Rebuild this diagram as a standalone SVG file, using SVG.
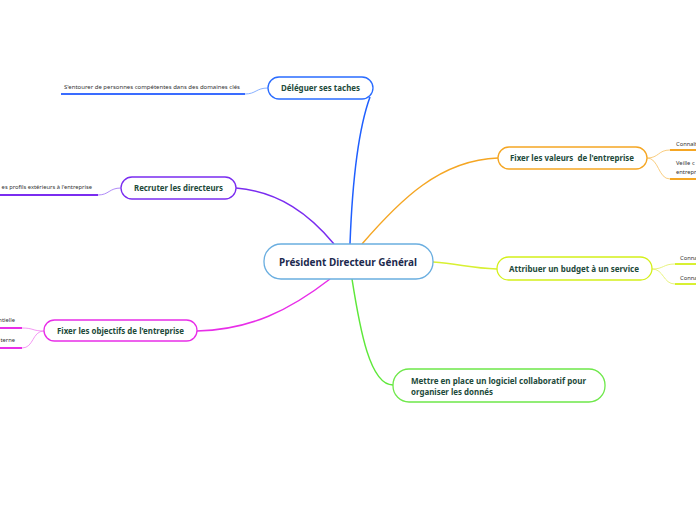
<svg xmlns="http://www.w3.org/2000/svg" width="696" height="520" viewBox="0 0 696 520">
<style>
.node{fill:#fff;stroke-width:1.3}
.t{font-family:"Noto Sans","Open Sans",sans-serif;font-weight:bold;font-size:8px;fill:#1d4a3a}
.leaf{font-family:"Noto Sans","Open Sans",sans-serif;font-size:5.8px;fill:#333}
.c{fill:none;stroke-width:1.5}
.lc{fill:none;stroke-width:0.8}
.ul{fill:none;stroke-width:2}
</style>
<rect width="696" height="520" fill="#fff"/>
<g id="connectors">
<path class="c" stroke="#1f5fff" d="M350,244 C352,190 358,130 370,97"/>
<path class="c" stroke="#7a2cf0" d="M334,244 C310,215 280,192 236,188"/>
<path class="c" stroke="#f5a623" d="M362,244 C400,200 440,160 498,158"/>
<path class="c" stroke="#d8f032" d="M433,262 C460,264 470,268 497,269"/>
<path class="c" stroke="#5ee83a" d="M352,279 C360,330 370,385 393,385"/>
<path class="c" stroke="#e82ee8" d="M330,279 C290,310 250,330 197,331"/>
<path class="lc" stroke="#6a9cff" d="M268,88 C256,88 256,94 245,94"/>
<path class="ul" stroke="#3a6cff" d="M245,94 H61"/>
<path class="lc" stroke="#9a6cf5" d="M121,188 C109,188 109,195 98,195"/>
<path class="ul" stroke="#7a2cf0" d="M98,195 H0"/>
<path class="lc" stroke="#f07cf0" d="M44,331 C32,331 34,328 22,328"/>
<path class="ul" stroke="#e82ee8" d="M22,328 H0"/>
<path class="lc" stroke="#f07cf0" d="M44,331 C32,331 34,348 22,348"/>
<path class="ul" stroke="#e82ee8" d="M22,348 H0"/>
<path class="lc" stroke="#f8c060" d="M647,158 C659,158 658,150 670,150"/>
<path class="ul" stroke="#f5a623" d="M670,150 H696"/>
<path class="lc" stroke="#f8c060" d="M647,158 C659,158 658,179 670,179"/>
<path class="ul" stroke="#f5a623" d="M670,179 H696"/>
<path class="lc" stroke="#e2f060" d="M652,269 C664,269 663,264 675,264"/>
<path class="ul" stroke="#d8f032" d="M675,264 H696"/>
<path class="lc" stroke="#e2f060" d="M652,269 C664,269 663,284 675,284"/>
<path class="ul" stroke="#d8f032" d="M675,284 H696"/>
</g>
<g id="central">
<rect class="node" x="264" y="244" width="169" height="35" rx="17" stroke="#6aaee0"/>
<text x="348" y="266" text-anchor="middle" class="t" style="font-size:10.5px;fill:#1c2a4e" textLength="138" lengthAdjust="spacingAndGlyphs">Président Directeur Général</text>
</g>
<g id="deleguer">
<rect class="node" x="268" y="77" width="105" height="22" rx="11" stroke="#2a6cff"/>
<text x="320.5" y="91" text-anchor="middle" class="t" textLength="79" lengthAdjust="spacingAndGlyphs">Déléguer ses taches</text>
<text x="64" y="89" class="leaf" textLength="176" lengthAdjust="spacingAndGlyphs">S'entourer de personnes compétentes dans des domaines clés</text>
</g>
<g id="recruter">
<rect class="node" x="121" y="177" width="115" height="22" rx="11" stroke="#7a2cf0"/>
<text x="178.5" y="191" text-anchor="middle" class="t" textLength="89" lengthAdjust="spacingAndGlyphs">Recruter les directeurs</text>
<text x="92" y="189" text-anchor="end" class="leaf">es profils extérieurs à l'entreprise</text>
</g>
<g id="objectifs">
<rect class="node" x="44" y="320" width="153" height="21" rx="10.5" stroke="#e82ee8"/>
<text x="120.5" y="334" text-anchor="middle" class="t" textLength="127" lengthAdjust="spacingAndGlyphs">Fixer les objectifs de l'entreprise</text>
<text x="15" y="322" text-anchor="end" class="leaf">ntielle</text>
<text x="15" y="342" text-anchor="end" class="leaf">terne</text>
</g>
<g id="valeurs">
<rect class="node" x="498" y="147" width="149" height="22" rx="11" stroke="#f5a623"/>
<text x="572" y="161" text-anchor="middle" class="t" textLength="124" lengthAdjust="spacingAndGlyphs" xml:space="preserve">Fixer les valeurs  de l'entreprise</text>
<text x="676" y="146" class="leaf">Connaît</text>
<text x="676" y="165" class="leaf">Veille c</text>
<text x="676" y="174" class="leaf">entrepr</text>
</g>
<g id="budget">
<rect class="node" x="497" y="257" width="155" height="23" rx="11.5" stroke="#d4f01a"/>
<text x="574" y="272" text-anchor="middle" class="t" textLength="130" lengthAdjust="spacingAndGlyphs">Attribuer un budget à un service</text>
<text x="680" y="260" class="leaf">Conna</text>
<text x="680" y="280" class="leaf">Conna</text>
</g>
<g id="logiciel">
<rect class="node" x="393" y="369" width="212" height="33" rx="16" stroke="#6ee84a"/>
<text x="411" y="384" class="t" textLength="175" lengthAdjust="spacingAndGlyphs">Mettre en place un logiciel collaboratif pour</text>
<text x="411" y="395" class="t" textLength="82" lengthAdjust="spacingAndGlyphs">organiser les donnés</text>
</g>
</svg>
